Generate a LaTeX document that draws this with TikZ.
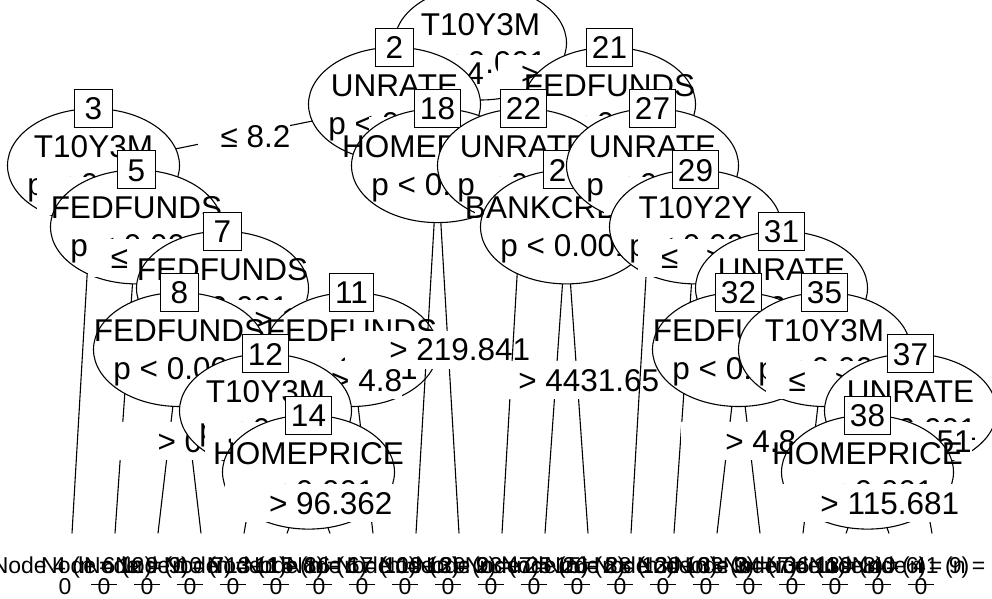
\documentclass[tikz,border=0pt]{standalone}
\usepackage{fontspec}
\setmainfont{Liberation Sans}
\usetikzlibrary{shapes.geometric}
\newcommand\pkbig{\fontsize{31.5pt}{37.8pt}\selectfont}
\newcommand\pksmall{\fontsize{23pt}{27.6pt}\selectfont}
\tikzset{
  ln/.style={line width=1.1pt, black},
  ellbox/.style={ellipse, draw, line width=1.1pt, fill=white, minimum width=172pt, minimum height=114pt, inner sep=0pt},
  idbox/.style={draw, line width=1.1pt, fill=white, minimum width=38pt, minimum height=38pt, inner xsep=5.3pt, inner ysep=0pt, text height=22.6pt, text depth=0pt, font=\pkbig},
  vtxt/.style={anchor=base, inner sep=0pt, font=\pkbig},
  elab/.style={fill=white, inner xsep=0pt, inner ysep=0pt, minimum height=38pt, text height=22.6pt, text depth=0pt, font=\pkbig},
  ttxt/.style={anchor=base, inner sep=0pt, font=\pksmall},
}
\newcommand\pkellipse[4]{%
  \node[ellbox] (e#1) at (#2,#3) {};
  \node[vtxt] (v#1) at (#2,#3-8) {#4};
  \node[vtxt] (p#1) at (#2,#3+30) {p < 0.001};
}
\newcommand\pkinner[4]{%
  \pkellipse{#1}{#2}{#3}{#4}%
  \node[idbox] (b#1) at (#2,#3-57) {#1};
}
\newcommand\pkedge[2]{\draw[ln] (n#1) -- (n#2);}
\newcommand\pklab[4]{\node[elab] (l#1) at (#2,#3) {\hspace*{23pt}#4};}
\newcommand\pkterm[3]{%
  \node[ttxt] (t#1) at (#2,573) {Node #1 (n = #3)};
  \node[ttxt] (z#1) at (#2-11,594) {0};
  \draw[ln, line width=0.9pt] (#2-24,584) -- (#2+2,584);
}
\begin{document}
\begin{tikzpicture}[x=1pt,y=-1pt]
\useasboundingbox (0,0) rectangle (992,598);
\fill[white] (0,0) rectangle (992,598);
\clip (0,0) rectangle (992,598);
% node centres
\coordinate (n1) at (480.5,43);
\coordinate (n2) at (394.5,104.3);
\coordinate (n21) at (609.5,104.3);
\coordinate (n3) at (93.5,165.6);
\coordinate (n18) at (437.5,165.6);
\coordinate (n22) at (523.5,165.6);
\coordinate (n27) at (652.5,165.6);
\coordinate (n5) at (136.5,226.9);
\coordinate (n24) at (566.5,226.9);
\coordinate (n29) at (695.5,226.9);
\coordinate (n7) at (222.5,288.2);
\coordinate (n31) at (781.5,288.2);
\coordinate (n8) at (179.5,349.5);
\coordinate (n11) at (351.5,349.5);
\coordinate (n32) at (738.5,349.5);
\coordinate (n35) at (824.5,349.5);
\coordinate (n12) at (265.5,410.8);
\coordinate (n37) at (910.5,410.8);
\coordinate (n14) at (308.5,472.1);
\coordinate (n38) at (867.5,472.1);
% terminal line ends
\coordinate (n4) at (72,533.4);
\coordinate (n6) at (115,533.4);
\coordinate (n9) at (158,533.4);
\coordinate (n10) at (201,533.4);
\coordinate (n13) at (244,533.4);
\coordinate (n15) at (287,533.4);
\coordinate (n16) at (330,533.4);
\coordinate (n17) at (373,533.4);
\coordinate (n19) at (416,533.4);
\coordinate (n20) at (459,533.4);
\coordinate (n23) at (502,533.4);
\coordinate (n25) at (545,533.4);
\coordinate (n26) at (588,533.4);
\coordinate (n28) at (631,533.4);
\coordinate (n30) at (674,533.4);
\coordinate (n33) at (717,533.4);
\coordinate (n34) at (760,533.4);
\coordinate (n36) at (803,533.4);
\coordinate (n39) at (846,533.4);
\coordinate (n40) at (889,533.4);
\coordinate (n41) at (932,533.4);
% ---- node 1
\pkedge{1}{2}\pkedge{1}{21}
\pkellipse{1}{480.5}{43}{T10Y3M}
\pklab{2}{437.5}{73.65}{≤ 0.4}
\pklab{21}{545}{73.65}{> 0.4}
% ---- node 2
\pkedge{2}{3}\pkedge{2}{18}
\pkinner{2}{394.5}{104.3}{UNRATE}
\pklab{3}{244}{136}{≤ 8.2}
\pklab{18}{416}{136}{> 8.2}
% ---- node 3
\pkedge{3}{4}\pkedge{3}{5}
\pkinner{3}{93.5}{165.6}{T10Y3M}
\pklab{4}{91.7}{196.25}{≤ 0.59}
\pklab{5}{115}{196.25}{> 0.59}
\node[ttxt] (t4) at (72,573) {Node 4 (n = 12)};
\node[ttxt] (z4) at (65,594) {0};
% ---- node 5
\pkedge{5}{6}\pkedge{5}{7}
\pkinner{5}{136.5}{226.9}{FEDFUNDS}
\pklab{6}{134.35}{257.55}{≤ 0.2}
\pklab{7}{179.5}{257.55}{> 0.2}
\pkterm{6}{115}{9}
% ---- node 7
\pkedge{7}{8}\pkedge{7}{11}
\pkinner{7}{222.5}{288.2}{FEDFUNDS}
\pklab{8}{201}{318.85}{≤ 1.53}
\pklab{11}{287}{318.85}{> 1.53}
% ---- node 8
\pkedge{8}{9}\pkedge{8}{10}
\pkinner{8}{179.5}{349.5}{FEDFUNDS}
\pklab{9}{168.75}{441.45}{≤ 0.13}
\pklab{10}{190.25}{441.45}{> 0.13}
\pkterm{9}{158}{7}
\pkterm{10}{201}{11}
% ---- node 11
\pkedge{11}{12}\pkedge{11}{17}
\pkinner{11}{351.5}{349.5}{FEDFUNDS}
\pklab{12}{308.5}{380.15}{≤ 4.8}
\pklab{17}{355.1}{380.15}{> 4.8}
% ---- node 12
\pkedge{12}{13}\pkedge{12}{14}
\pkinner{12}{265.5}{410.8}{T10Y3M}
\pklab{13}{260.1}{441.45}{≤ 1.22}
\pklab{14}{287}{441.45}{> 1.22}
\pkterm{13}{244}{8}
% ---- node 14
\pkedge{14}{15}\pkedge{14}{16}
\pkinner{14}{308.5}{472.1}{HOMEPRICE}
\pklab{15}{297.75}{502.75}{≤ 96.362}
\pklab{16}{319.25}{502.75}{> 96.362}
\pkterm{15}{287}{6}
\pkterm{16}{330}{10}
\pkterm{17}{373}{13}
% ---- node 18
\pkedge{18}{19}\pkedge{18}{20}
\pkinner{18}{437.5}{165.6}{HOMEPRICE}
\pklab{19}{426.75}{349.5}{≤ 219.841}
\pklab{20}{448.25}{349.5}{> 219.841}
\pkterm{19}{416}{9}
\pkterm{20}{459}{7}
% ---- node 21
\pkedge{21}{22}\pkedge{21}{27}
\pkinner{21}{609.5}{104.3}{FEDFUNDS}
\pklab{22}{566.5}{134.95}{≤ 2.4}
\pklab{27}{631}{134.95}{> 2.4}
% ---- node 22
\pkedge{22}{23}\pkedge{22}{24}
\pkinner{22}{523.5}{165.6}{UNRATE}
\pklab{23}{521.7}{196.25}{≤ 5.3}
\pklab{24}{545}{196.25}{> 5.3}
\pkterm{23}{502}{15}
% ---- node 24
\pkedge{24}{25}\pkedge{24}{26}
\pkinner{24}{566.5}{226.9}{BANKCREDIT}
\pklab{25}{555.75}{380.15}{≤ 4431.65}
\pklab{26}{577.25}{380.15}{> 4431.65}
\pkterm{25}{545}{8}
\pkterm{26}{588}{12}
% ---- node 27
\pkedge{27}{28}\pkedge{27}{29}
\pkinner{27}{652.5}{165.6}{UNRATE}
\pklab{28}{650.7}{196.25}{≤ 6.1}
\pklab{29}{674}{196.25}{> 6.1}
\pkterm{28}{631}{10}
% ---- node 29
\pkedge{29}{30}\pkedge{29}{31}
\pkinner{29}{695.5}{226.9}{T10Y2Y}
\pklab{30}{693.35}{257.55}{≤ 0.72}
\pklab{31}{738.5}{257.55}{> 0.72}
\pkterm{30}{674}{9}
% ---- node 31
\pkedge{31}{32}\pkedge{31}{35}
\pkinner{31}{781.5}{288.2}{UNRATE}
\pklab{32}{760}{318.85}{≤ 4.6}
\pklab{35}{803}{318.85}{> 4.6}
% ---- node 32
\pkedge{32}{33}\pkedge{32}{34}
\pkinner{32}{738.5}{349.5}{FEDFUNDS}
\pklab{33}{727.75}{441.45}{≤ 4.8}
\pklab{34}{749.25}{441.45}{> 4.8}
\pkterm{33}{717}{7}
\pkterm{34}{760}{11}
% ---- node 35
\pkedge{35}{36}\pkedge{35}{37}
\pkinner{35}{824.5}{349.5}{T10Y3M}
\pklab{36}{820.9}{380.15}{≤ 1.13}
\pklab{37}{867.5}{380.15}{> 1.13}
\pkterm{36}{803}{8}
% ---- node 37
\pkedge{37}{38}\pkedge{37}{41}
\pkinner{37}{910.5}{410.8}{UNRATE}
\pklab{38}{889}{441.45}{≤ 4.51}
\pklab{41}{915.9}{441.45}{> 4.51}
% ---- node 38
\pkedge{38}{39}\pkedge{38}{40}
\pkinner{38}{867.5}{472.1}{HOMEPRICE}
\pklab{39}{856.75}{502.75}{≤ 115.681}
\pklab{40}{878.25}{502.75}{> 115.681}
\pkterm{39}{846}{6}
\pkterm{40}{889}{9}
\pkterm{41}{932}{7}
\end{tikzpicture}
\end{document}
